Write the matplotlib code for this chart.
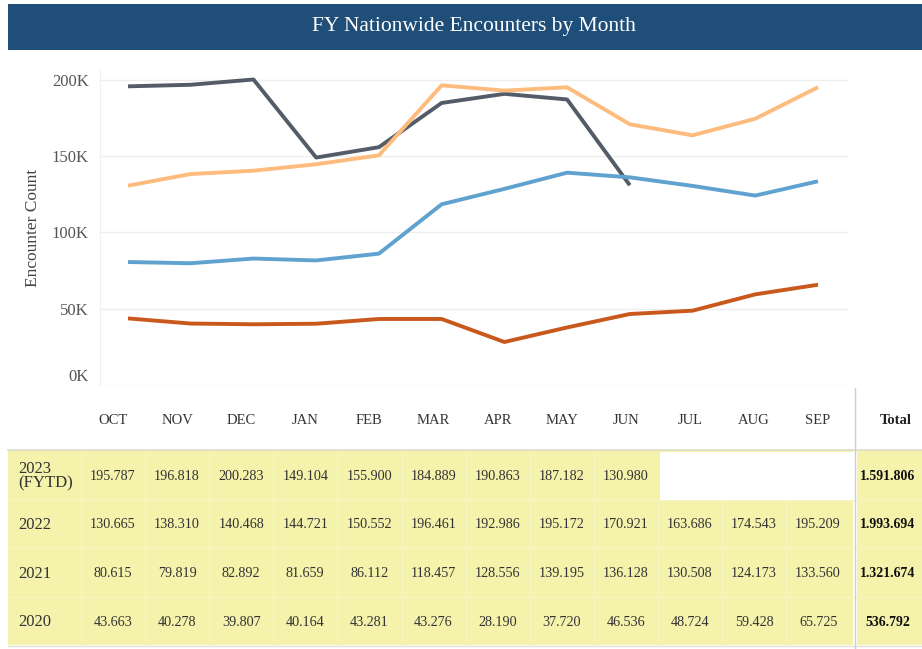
import matplotlib
matplotlib.use("Agg")
import matplotlib.pyplot as plt
from matplotlib.patches import Rectangle
import numpy as np

months = ["OCT", "NOV", "DEC", "JAN", "FEB", "MAR", "APR", "MAY", "JUN", "JUL", "AUG", "SEP"]
row_labels = ["2023\n(FYTD)", "2022", "2021", "2020"]
fy2023 = [195787, 196818, 200283, 149104, 155900, 184889, 190863, 187182, 130980]
fy2022 = [130665, 138310, 140468, 144721, 150552, 196461, 192986, 195172, 170921, 163686, 174543, 195209]
fy2021 = [80615, 79819, 82892, 81659, 86112, 118457, 128556, 139195, 136128, 130508, 124173, 133560]
fy2020 = [43663, 40278, 39807, 40164, 43281, 43276, 28190, 37720, 46536, 48724, 59428, 65725]
series = [fy2023, fy2022, fy2021, fy2020]
colors = ["#535c68", "#fdbc7e", "#5fa2d0", "#c9581c"]
yticks = [0, 50000, 100000, 150000, 200000]
ytick_labels = ["0K", "50K", "100K", "150K", "200K"]

W, H = 922, 649
fig = plt.figure(figsize=(W / 100, H / 100), dpi=100)
plt.rcParams['font.family'] = ['Liberation Serif', 'DejaVu Serif']

def fx(px):
    return px / W

def fy(py):
    return 1 - py / H

# Overlay axes in pixel coordinates for banner and table
bg = fig.add_axes([0, 0, 1, 1])
bg.set_xlim(0, W)
bg.set_ylim(H, 0)
bg.axis("off")

# Title banner
bg.add_patch(Rectangle((8, 4), W - 8, 46, facecolor="#1f4e79", edgecolor="none"))
bg.text(474, 27, "FY Nationwide Encounters by Month", color="white", fontsize=15.5,
        ha="center", va="center")

# Chart axes
x0, x1 = 100, 848
ytop, ybot = 70, 385
ax = fig.add_axes([fx(x0), fy(ybot), (x1 - x0) / W, (ybot - ytop) / H])
step = (818 - 128) / 11
ax.set_xlim(-(128 - x0) / step, (x1 - 128) / step)
ax.set_ylim(0, 206500)
for s, c in zip(series, colors):
    ax.plot(np.arange(len(s)), s, color=c, lw=2.8, solid_capstyle="butt", zorder=3)
ax.set_yticks(yticks)
ax.set_yticklabels(ytick_labels, fontsize=12, color="#555555")
ax.get_yticklabels()[0].set_va("bottom")
ax.set_xticks([])
ax.grid(axis="y", color="#eeeeee", lw=1)
for sp in ["top", "right", "bottom"]:
    ax.spines[sp].set_visible(False)
ax.spines["left"].set_color("#f0f0f0")
ax.tick_params(axis="y", length=0, pad=8)
ax.set_ylabel("Encounter Count", fontsize=12.5, color="#444444", labelpad=8)
ax.set_facecolor("none")

# Table
col_x = [113 + 64.1 * i for i in range(12)]
total_x = 888
header_y = 420
row_tops = [450, 500, 548, 597]
row_bots = [500, 548, 597, 645]
yellow = "#f4f2ab"
sep = "#f7f5c4"

bg.add_patch(Rectangle((8, 450), 845, 195, facecolor=yellow, edgecolor="none"))
bg.add_patch(Rectangle((857, 450), W - 857, 195, facecolor=yellow, edgecolor="none"))
# faint cell separators
for i in range(12):
    xs = 81 + 64.1 * i
    top = 500 if xs > 655 else 452
    bg.plot([xs, xs], [top, 645], color=sep, lw=1)
for yb in row_bots[:-1]:
    bg.plot([8, 922], [yb, yb], color=sep, lw=1)
bg.add_patch(Rectangle((660, 452), 193, 48, facecolor="white", edgecolor="none", zorder=3))
bg.plot([8, 922], [450, 450], color="#dcdccc", lw=1.2)
bg.plot([8, 922], [646, 646], color="#e2e2d8", lw=1)
bg.plot([855, 855], [388, 649], color="#cfcfcf", lw=1, zorder=4)

for m, x in zip(months, col_x):
    bg.text(x, header_y, m, fontsize=10.5, color="#333333", ha="center", va="center")
bg.text(896, header_y, "Total", fontsize=10.5, color="#222222", ha="center", va="center",
        fontweight="bold")

def fmt(v):
    return f"{v:,}".replace(",", ".")

for r, (lab, s) in enumerate(zip(row_labels, series)):
    cy = (row_tops[r] + row_bots[r]) / 2 + 1
    bg.text(18, cy, lab, fontsize=12, color="#333333", ha="left", va="center",
            linespacing=0.9)
    for i, v in enumerate(s):
        bg.text(col_x[i], cy, fmt(v), fontsize=10.2, color="#333333", ha="center", va="center")
    bg.text(total_x, cy, fmt(sum(s)), fontsize=10, color="#111111", ha="center",
            va="center", fontweight="bold")

fig.savefig("out.png", dpi=100)
